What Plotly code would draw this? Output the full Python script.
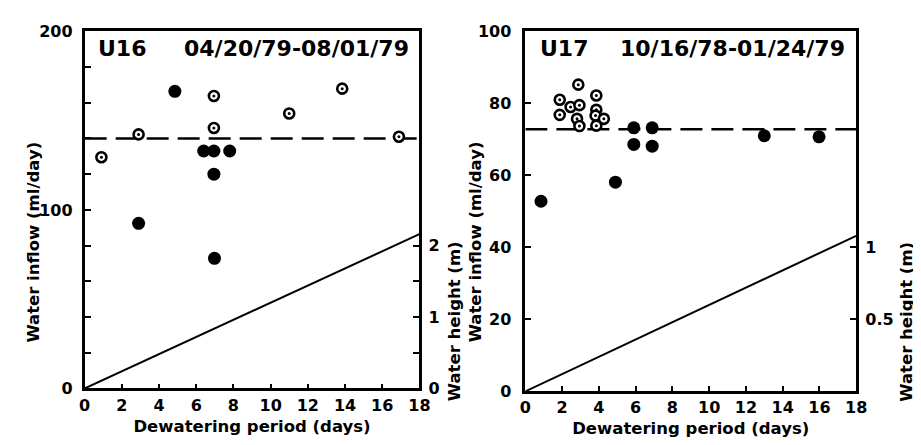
import plotly.graph_objects as go

# ---------------- data ----------------
# Panel U16 (04/20/79-08/01/79)
u16_open_x = [0.9, 2.9, 6.95, 6.95, 11.0, 13.85, 16.9]
u16_open_y = [129.5, 142.3, 163.8, 145.9, 154.0, 167.9, 141.0]
u16_fill_x = [4.85, 2.9, 6.4, 6.95, 7.8, 6.95, 6.98]
u16_fill_y = [166.4, 92.5, 133.0, 133.0, 133.0, 120.0, 72.9]
u16_mean = 140.0
u16_height_x = [0, 18]
u16_height_m = [0, 2.16]

# Panel U17 (10/16/78-01/24/79)
u17_open_x = [2.88, 3.86, 1.87, 2.46, 2.94, 1.87, 2.81, 2.94, 3.86, 3.82, 4.27, 3.86]
u17_open_y = [85.2, 82.2, 81.0, 79.0, 79.5, 76.8, 75.7, 73.7, 78.2, 76.6, 75.7, 73.8]
u17_fill_x = [0.85, 4.9, 5.9, 6.9, 5.9, 6.9, 13.0, 15.98]
u17_fill_y = [52.8, 58.1, 73.2, 73.2, 68.6, 68.1, 71.0, 70.7]
u17_mean = 72.8
u17_height_x = [0, 18]
u17_height_m = [0, 1.08]

x_ticks = [0, 2, 4, 6, 8, 10, 12, 14, 16, 18]
u16_inflow_ticks = [0, 20, 40, 60, 80, 100, 120, 140, 160, 180, 200]
u16_inflow_labels = ["0", "", "", "", "", "100", "", "", "", "", "200"]
u16_height_ticks = [0, 0.5, 1, 1.5, 2]
u16_height_labels = ["0", "", "1", "", "2"]
u17_inflow_ticks = [0, 20, 40, 60, 80, 100]
u17_inflow_labels = ["0", "20", "40", "60", "80", "100"]
u17_height_ticks = [0.5, 1]
u17_height_labels = ["0.5", "1"]

FONT = "DejaVu Sans"
tickfont = dict(family=FONT, size=16, color="black", weight="bold")
titlefont = dict(family=FONT, size=16.5, color="black", weight="bold")

fig = go.Figure()


def add_panel(xa, ya, ya2, ox, oy, fx, fy, mean, hx, hm):
    fig.add_trace(go.Scatter(x=[0, 18], y=[mean, mean], mode="lines",
                             line=dict(color="black", width=2.5, dash="22px,9px"),
                             xaxis=xa, yaxis=ya, showlegend=False, hoverinfo="skip"))
    fig.add_trace(go.Scatter(x=hx, y=hm, mode="lines",
                             line=dict(color="black", width=2),
                             xaxis=xa, yaxis=ya2, showlegend=False))
    fig.add_trace(go.Scatter(x=ox, y=oy, mode="markers",
                             marker=dict(symbol="circle", size=10, color="white",
                                         line=dict(color="black", width=2.6)),
                             xaxis=xa, yaxis=ya, showlegend=False))
    fig.add_trace(go.Scatter(x=ox, y=oy, mode="markers",
                             marker=dict(symbol="circle", size=3, color="black"),
                             xaxis=xa, yaxis=ya, showlegend=False, hoverinfo="skip"))
    fig.add_trace(go.Scatter(x=fx, y=fy, mode="markers",
                             marker=dict(symbol="circle", size=13, color="black"),
                             xaxis=xa, yaxis=ya, showlegend=False))


add_panel("x", "y", "y2", u16_open_x, u16_open_y, u16_fill_x, u16_fill_y,
          u16_mean, u16_height_x, u16_height_m)
add_panel("x2", "y3", "y4", u17_open_x, u17_open_y, u17_fill_x, u17_fill_y,
          u17_mean, u17_height_x, u17_height_m)

xcommon = dict(range=[0, 18], tickvals=x_ticks, ticks="inside", ticklen=5, tickwidth=2,
               tickcolor="black", showline=True, linewidth=2.8, linecolor="black",
               mirror=True, showgrid=False, zeroline=False, tickfont=tickfont,
               title=dict(text="Dewatering period (days)", font=titlefont, standoff=7))
ycommon = dict(ticks="inside", ticklen=6, tickwidth=2, tickcolor="black",
               showline=True, linewidth=2.8, linecolor="black", showgrid=False,
               zeroline=False, tickfont=tickfont)

ld = [72 / 921, 413 / 921]
rd = [521 / 921, 858 / 921]
lyd = [1 - 388 / 445, 1 - 15 / 445]
ryd = [1 - 391 / 445, 1 - 15 / 445]

fig.update_layout(
    width=921, height=445,
    margin=dict(l=0, r=0, t=0, b=0),
    paper_bgcolor="white", plot_bgcolor="white",
    xaxis=dict(domain=ld, anchor="y", **xcommon),
    xaxis2=dict(domain=rd, anchor="y3", **xcommon),
    yaxis=dict(domain=lyd, anchor="x", range=[0, 200], tickvals=u16_inflow_ticks,
               ticktext=u16_inflow_labels, ticklabelstandoff=6, **ycommon),
    yaxis2=dict(domain=lyd, anchor="x", overlaying="y", side="right", range=[0, 5],
                tickvals=u16_height_ticks, ticktext=u16_height_labels,
                ticklabelstandoff=3, **ycommon),
    yaxis3=dict(domain=ryd, anchor="x2", range=[0, 100], tickvals=u17_inflow_ticks,
                ticktext=u17_inflow_labels, ticklabelstandoff=8, **ycommon),
    yaxis4=dict(domain=ryd, anchor="x2", overlaying="y3", side="right", range=[0, 2.5],
                tickvals=u17_height_ticks, ticktext=u17_height_labels,
                ticklabelstandoff=3, **ycommon),
)


def ann(text, x, y, font, angle=0):
    fig.add_annotation(text=text, xref="paper", yref="paper", x=x / 921, y=1 - y / 445,
                       showarrow=False, font=font, xanchor="center", yanchor="middle",
                       textangle=angle)


annfont = dict(family=FONT, size=22, color="black", weight="bold")
ann("U16", 110, 33, annfont)
ann("04/20/79-08/01/79", 288, 33, annfont)
ann("U17", 560, 33, annfont)
ann("10/16/78-01/24/79", 732, 33, annfont)

ann("Water inflow (ml/day)", 20, 235, titlefont, -90)
ann("Water height (m)", 449, 318, titlefont, -90)
ann("Water inflow (ml/day)", 471, 235, titlefont, -90)
ann("Water height (m)", 909, 318, titlefont, -90)

fig.write_html("out.html")
